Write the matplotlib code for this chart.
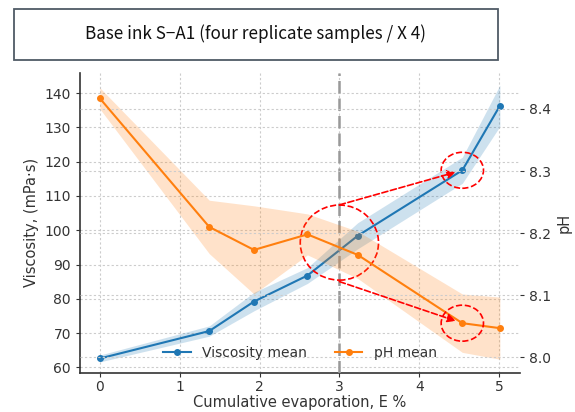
import matplotlib
matplotlib.use('Agg')
import matplotlib.pyplot as plt
from matplotlib.patches import Ellipse, Rectangle

# cumulative evaporation (E %)
evap = [0.0, 1.37, 1.93, 2.60, 3.23, 4.54, 5.01]

# viscosity mean and spread (mPa·s)
visc_mean = [62.6, 70.6, 79.2, 86.8, 98.4, 117.5, 136.3]
visc_sd = [1.0, 1.5, 2.7, 2.3, 3.8, 3.8, 6.0]

# pH mean and spread
ph_mean = [8.417, 8.210, 8.173, 8.198, 8.165, 8.055, 8.047]
ph_sd = [0.017, 0.043, 0.071, 0.033, 0.038, 0.047, 0.050]

title = 'Base ink S\u2212A1 (four replicate samples / X 4)'

blue = '#1f77b4'
orange = '#ff7f0e'


def band(y, s, sign):
    return [a + sign * b for a, b in zip(y, s)]


fig = plt.figure(figsize=(5.75, 4.12), dpi=100)

# title box
fig.patches.append(Rectangle((0.024, 0.854), 0.842, 0.124, transform=fig.transFigure,
                             fill=False, edgecolor='#4f5b66', linewidth=1.3))
fig.text(0.4435, 0.918, title, ha='center', va='center', fontsize=12.3,
         family=['Noto Sans CJK KR', 'DejaVu Sans'], color='#111111')

ax = fig.add_axes([0.139, 0.095, 0.765, 0.728])
ax2 = ax.twinx()

ax.fill_between(evap, band(visc_mean, visc_sd, -1), band(visc_mean, visc_sd, 1),
                color=blue, alpha=0.22, linewidth=0)
l1, = ax.plot(evap, visc_mean, color=blue, marker='o', markersize=4, lw=1.5,
              label='Viscosity mean')

ax2.fill_between(evap, band(ph_mean, ph_sd, -1), band(ph_mean, ph_sd, 1),
                 color=orange, alpha=0.22, linewidth=0)
l2, = ax2.plot(evap, ph_mean, color=orange, marker='o', markersize=4, lw=1.5,
               label='pH mean')

ax.axvline(3, color='#999999', ls=(0, (5, 2)), lw=1.8, zorder=3)

ax.set_xlim(-0.25, 5.26)
ax.set_ylim(58.4, 145.9)
ax2.set_ylim(7.975, 8.458)
ax.set_xticks(range(6))
ax.set_yticks(range(60, 141, 10))
ax2.set_yticks([8.0, 8.1, 8.2, 8.3, 8.4])

grid_kw = dict(color='#cccccc', ls=(0, (2, 2)), lw=0.8)
ax.grid(True, **grid_kw)
ax2.grid(True, axis='y', **grid_kw)
ax.set_axisbelow(True)

for s in ['top', 'right']:
    ax.spines[s].set_visible(False)
for s in ax2.spines.values():
    s.set_visible(False)
for s in ['left', 'bottom']:
    ax.spines[s].set_color('#333333')
    ax.spines[s].set_linewidth(1.2)

ax.tick_params(labelsize=10, colors='#333333', length=3)
ax.tick_params(axis='x', pad=2)
ax2.tick_params(labelsize=10, colors='#333333', length=3)
ax.set_xlabel('Cumulative evaporation, E %', fontsize=10.5, color='#333333', labelpad=1)
ax.set_ylabel('Viscosity, (mPa\u00b7s)', fontsize=10.5, color='#333333')
ax2.set_ylabel('pH', fontsize=10.5, color='#333333')

# red dashed highlight circles and arrows
red_kw = dict(fill=False, edgecolor='red', ls='--', lw=1.2, zorder=6)
ax.add_patch(Ellipse((3.0, 96.4), 0.98, 21.9, **red_kw))
ax.add_patch(Ellipse((evap[5], visc_mean[5]), 0.53, 10.5, **red_kw))
ax2.add_patch(Ellipse((evap[5], ph_mean[5]), 0.53, 0.058, **red_kw))

arrow = dict(arrowstyle='-|>', color='red', ls='--', lw=1.2, shrinkA=0, shrinkB=5,
             mutation_scale=12)
ax.annotate('', xy=(evap[5], visc_mean[5]), xytext=(3.0, 107.4), arrowprops=arrow,
            zorder=6)
ax2.annotate('', xy=(evap[5], ph_mean[5]), xytext=(3.0, 8.122), arrowprops=arrow,
             zorder=6)

leg = ax2.legend(handles=[l1, l2], loc='lower center', ncol=2, frameon=False,
                 fontsize=10, columnspacing=2.0, bbox_to_anchor=(0.5, 0.0))
for t in leg.get_texts():
    t.set_color('#333333')

fig.savefig('out.png', dpi=100)
